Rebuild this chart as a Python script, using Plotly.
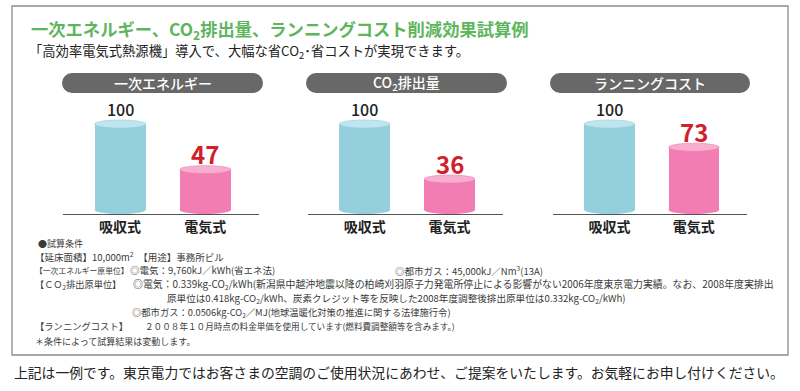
import plotly.graph_objects as go

W, H = 800, 391
FONT = "Noto Sans CJK JP"


def px(x):
    return x / W


def py(y):
    return 1 - y / H


# ---------------- data ----------------
categories = ["吸収式", "電気式"]
panel_titles = ["一次エネルギー", "CO<sub>2</sub>排出量", "ランニングコスト"]
absorption_values = [100, 100, 100]
electric_values = [47, 36, 73]

title_text = "一次エネルギー、CO<sub>2</sub>排出量、ランニングコスト削減効果試算例"
subtitle_text = "「高効率電気式熱源機」導入で、大幅な省CO<sub>2</sub>･省コストが実現できます。"
footer_text = "上記は一例です。東京電力ではお客さまの空調のご使用状況にあわせ、ご提案をいたします。お気軽にお申し付けください。"
condition_lines = [
    ("●試算条件", 36, 243, 9),
    ("【延床面積】10,000m<sup>2</sup>　【用途】事務所ビル", 33, 256, 9.5),
    ("【一次エネルギー原単位】", 33, 270, 7.8),
    ("◎電気：9,760kJ／kWh(省エネ法)", 128, 270, 9.5),
    ("◎都市ガス：45,000kJ／Nm<sup>3</sup>(13A)", 393, 270, 9.5),
    ("【ＣＯ<sub>2</sub>排出原単位】", 33, 284, 9.2),
    ("◎電気：0.339kg-CO<sub>2</sub>/kWh(新潟県中越沖地震以降の柏崎刈羽原子力発電所停止による影響がない2006年度東京電力実績。なお、2008年度実排出", 131, 284, 9.9),
    ("原単位は0.418kg-CO<sub>2</sub>/kWh、炭素クレジット等を反映した2008年度調整後排出原単位は0.332kg-CO<sub>2</sub>/kWh)", 165, 298, 9.6),
    ("◎都市ガス：0.0506kg-CO<sub>2</sub>／MJ(地球温暖化対策の推進に関する法律施行令)", 130, 312, 9.3),
    ("【ランニングコスト】", 33, 326, 9.3),
    ("２００８年１０月時点の料金単価を使用しています(燃料費調整額等を含みます。)", 143, 326, 8.6),
    ("＊条件によって試算結果は変動します。", 33, 341, 9),
]

# ---------------- styling ----------------
BLUE = "#93cfdc"
BLUE_TOP = "#bfe6ee"
PINK = "#f27db3"
PINK_TOP = "#f8aecf"
RED = "#d0202c"

panel_x_px = [(63, 259), (308, 503), (553, 747)]
pill_x_px = [(62, 263), (306, 507), (550, 750)]
PILL_Y = (73, 93)

ZERO_PX = 210.0
PX_PER_UNIT = 0.86
BOTTOM_PX = 214.0
TOP_PX = 110.0
y_min = -(BOTTOM_PX - ZERO_PX) / PX_PER_UNIT
y_max = (ZERO_PX - TOP_PX) / PX_PER_UNIT
RY = 4.0 / PX_PER_UNIT
BAR_W = 0.6
X_RANGE = [-0.67, 1.63]

fig = go.Figure()
shapes = []
annotations = []

# outer frame
shapes.append(dict(type="rect", xref="paper", yref="paper",
                   x0=px(12), x1=px(788), y0=py(355), y1=py(6),
                   line=dict(color="#8c8c8c", width=1.3), layer="below"))

for i in range(3):
    xa = "x" if i == 0 else f"x{i + 1}"
    ya = "y" if i == 0 else f"y{i + 1}"
    vals = [absorption_values[i], electric_values[i]]
    fig.add_trace(go.Bar(
        x=categories, y=vals, width=BAR_W,
        marker=dict(color=[BLUE, PINK], line=dict(width=0)),
        xaxis=xa, yaxis=ya, showlegend=False, hoverinfo="skip",
    ))
    tops = [BLUE_TOP, PINK_TOP]
    bodies = [BLUE, PINK]
    for j, v in enumerate(vals):
        # bottom rounding of cylinder
        shapes.append(dict(type="circle", xref=xa, yref=ya,
                           x0=j - BAR_W / 2, x1=j + BAR_W / 2,
                           y0=-RY, y1=RY, fillcolor=bodies[j],
                           line=dict(width=0), layer="below"))
        # top ellipse of cylinder
        shapes.append(dict(type="circle", xref=xa, yref=ya,
                           x0=j - BAR_W / 2, x1=j + BAR_W / 2,
                           y0=v - RY, y1=v + RY, fillcolor=tops[j],
                           line=dict(color=bodies[j], width=0.6), layer="above"))
        if j == 0:
            annotations.append(dict(x=j, y=v, xref=xa, yref=ya, text=str(v),
                                    showarrow=False, yanchor="middle", yshift=15,
                                    font=dict(family=FONT, size=16, color="#222222", weight=500)))
        else:
            annotations.append(dict(x=j, y=v, xref=xa, yref=ya, text=str(v),
                                    showarrow=False, yanchor="middle", yshift=16,
                                    font=dict(family=FONT, size=24, color=RED, weight=700)))

    # pill header
    x0, x1 = pill_x_px[i]
    r = (PILL_Y[1] - PILL_Y[0]) / 2
    pill_col = "#686868"
    shapes.append(dict(type="rect", xref="paper", yref="paper",
                       x0=px(x0 + r), x1=px(x1 - r), y0=py(PILL_Y[1]), y1=py(PILL_Y[0]),
                       fillcolor=pill_col, line=dict(width=0)))
    for cx in (x0 + r, x1 - r):
        shapes.append(dict(type="circle", xref="paper", yref="paper",
                           x0=px(cx - r), x1=px(cx + r), y0=py(PILL_Y[1]), y1=py(PILL_Y[0]),
                           fillcolor=pill_col, line=dict(width=0)))
    annotations.append(dict(x=px((x0 + x1) / 2), y=py((PILL_Y[0] + PILL_Y[1]) / 2),
                            xref="paper", yref="paper", text=panel_titles[i],
                            showarrow=False, xanchor="center", yanchor="middle",
                            font=dict(family=FONT, size=14, color="white", weight=500)))

    d0, d1 = panel_x_px[i]
    axis_common = dict(showgrid=False, zeroline=False)
    fig.layout[("xaxis" if i == 0 else f"xaxis{i + 1}")] = dict(
        domain=[px(d0), px(d1)], range=X_RANGE, type="category",
        anchor=ya, showline=True, linecolor="#555555", linewidth=1,
        ticks="", showticklabels=True,
        tickfont=dict(family=FONT, size=14, color="#222222", weight=700),
        fixedrange=True, **axis_common)
    fig.layout[("yaxis" if i == 0 else f"yaxis{i + 1}")] = dict(
        domain=[py(BOTTOM_PX), py(TOP_PX)], range=[y_min, y_max],
        anchor=xa, visible=False, fixedrange=True, **axis_common)

# titles
annotations.append(dict(x=px(29), y=py(30), xref="paper", yref="paper", text=title_text,
                        showarrow=False, xanchor="left", yanchor="middle",
                        font=dict(family=FONT, size=17.3, color="#5db65d", weight=700)))
annotations.append(dict(x=px(27), y=py(51), xref="paper", yref="paper", text=subtitle_text,
                        showarrow=False, xanchor="left", yanchor="middle",
                        font=dict(family=FONT, size=13.3, color="#222222")))

for text, x, y, s in condition_lines:
    annotations.append(dict(x=px(x), y=py(y), xref="paper", yref="paper", text=text,
                            showarrow=False, xanchor="left", yanchor="middle",
                            font=dict(family=FONT, size=s, color="#3a3a3a")))

annotations.append(dict(x=px(12), y=py(372), xref="paper", yref="paper", text=footer_text,
                        showarrow=False, xanchor="left", yanchor="middle",
                        font=dict(family=FONT, size=13.8, color="#222222")))

fig.update_layout(
    width=W, height=H,
    margin=dict(l=0, r=0, t=0, b=0),
    paper_bgcolor="white", plot_bgcolor="rgba(0,0,0,0)",
    shapes=shapes, annotations=annotations,
    font=dict(family=FONT),
    bargap=0,
)

fig.write_html("out.html", config={"displayModeBar": False},
               post_script="document.body.style.margin='0';document.body.style.padding='0';")
